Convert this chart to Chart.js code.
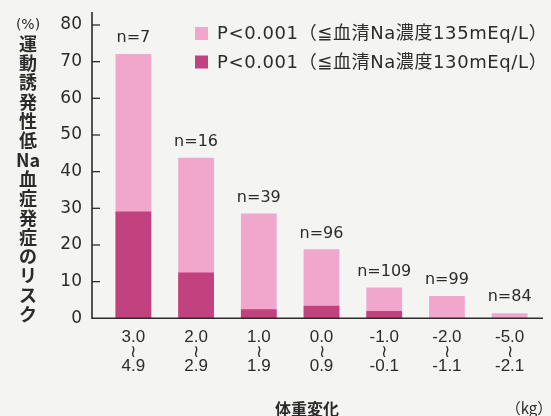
<!DOCTYPE html>
<html lang="ja">
<head>
<meta charset="UTF-8">
<title>体重変化と運動誘発性低Na血症発症のリスク</title>
<script src="https://cdn.jsdelivr.net/npm/chart.js"></script>
<style>
  html, body { margin: 0; padding: 0; background: #f4f4f3; }
  canvas { display: block; }
</style>
</head>
<body>
<canvas id="riskChart" width="551" height="416"></canvas>
<script>
// values
const weightFrom = ['3.0', '2.0', '1.0', '0.0', '-1.0', '-2.0', '-5.0'];
const weightTo = ['4.9', '2.9', '1.9', '0.9', '-0.1', '-1.1', '-2.1'];
const sampleSizes = [7, 16, 39, 96, 109, 99, 84];
const risk135 = [72.1, 43.8, 28.6, 18.8, 8.4, 6.1, 1.4];
const risk130 = [29.1, 12.5, 2.5, 3.4, 2.0, 0, 0];
const yTicks = [0, 10, 20, 30, 40, 50, 60, 70, 80];

const legend135 = 'P<0.001（≦血清Na濃度135mEq/L）';
const legend130 = 'P<0.001（≦血清Na濃度130mEq/L）';
const yTitle = ['運', '動', '誘', '発', '性', '低', 'Na', '血', '症', '発', '症', 'の', 'リ', 'ス', 'ク'];

const lightPink = '#f0a7cb';
const darkPink = '#c1427e';
const ink = '#2b2b2b';
const sans = "'DejaVu Sans', 'Noto Sans CJK JP', sans-serif";
const jp = "'Noto Sans CJK JP', sans-serif";

const labels = weightFrom.map((v, i) => [v, '≀', weightTo[i]]);

// axes, legend, titles and n= labels
const decor = {
    id: 'decor',
    beforeDraw(chart) {
        const c = chart.ctx;
        c.save();
        c.fillStyle = '#f4f4f3';
        c.fillRect(0, 0, chart.width, chart.height);
        c.restore();
    },
    afterDatasetsDraw(chart) {
        const c = chart.ctx;
        const y = chart.scales.y;
        const area = chart.chartArea;
        const axisX = area.left - 10;
        c.save();
        c.strokeStyle = ink;
        c.lineWidth = 1.6;
        c.beginPath();
        c.moveTo(axisX, 12);
        c.lineTo(axisX, area.bottom);
        c.lineTo(area.right + 2, area.bottom);
        c.stroke();
        c.lineWidth = 1.3;
        yTicks.forEach(t => {
            if (t === 0) return;
            const py = y.getPixelForValue(t);
            c.beginPath();
            c.moveTo(axisX, py);
            c.lineTo(axisX + 8, py);
            c.stroke();
        });

        // n= labels over the taller bar
        const meta = chart.getDatasetMeta(0);
        c.fillStyle = ink;
        c.font = '16px ' + sans;
        c.textAlign = 'center';
        c.textBaseline = 'middle';
        meta.data.forEach((bar, i) => {
            c.fillText('n=' + sampleSizes[i], bar.x, bar.y - 16);
        });

        // legend
        const items = [
            { text: legend135, color: lightPink, y: 33.5 },
            { text: legend130, color: darkPink, y: 62 }
        ];
        c.textAlign = 'left';
        c.font = '18px ' + sans;
        c.letterSpacing = '0.6px';
        items.forEach(it => {
            c.fillStyle = it.color;
            c.fillRect(195, it.y - 6.5, 13, 13);
            c.fillStyle = ink;
            c.fillText(it.text, 217, it.y + 1);
        });
        c.letterSpacing = '0px';

        // y title, stacked vertically
        c.textAlign = 'center';
        c.font = '14px ' + sans;
        c.fillText('(%)', 28, 25);
        c.font = 'bold 18px ' + jp;
        yTitle.forEach((ch, i) => {
            c.fillText(ch, 28, 44 + i * 19.3);
        });

        // x title
        c.font = 'bold 16px ' + jp;
        c.fillText('体重変化', 307, 409);
        c.font = '15px ' + jp;
        c.fillText('（kg）', 529, 408);
        c.restore();
    }
};

new Chart(document.getElementById('riskChart'), {
    type: 'bar',
    data: {
        labels: labels,
        datasets: [
            {
                label: legend135,
                data: risk135,
                backgroundColor: lightPink,
                order: 1
            },
            {
                label: legend130,
                data: risk130,
                backgroundColor: darkPink,
                order: 0
            }
        ]
    },
    options: {
        responsive: false,
        animation: false,
        events: [],
        layout: { padding: { top: 25, right: 10, bottom: 0, left: 0 } },
        datasets: { bar: { barPercentage: 0.57, categoryPercentage: 1 } },
        plugins: {
            legend: { display: false },
            tooltip: { enabled: false }
        },
        scales: {
            x: {
                stacked: true,
                grid: { display: false },
                border: { display: false },
                ticks: {
                    color: ink,
                    font: { family: "'Liberation Sans', 'Noto Sans CJK JP', sans-serif", size: 17, lineHeight: 0.85 },
                    padding: 4,
                    maxRotation: 0,
                    autoSkip: false
                },
                afterFit(scale) { scale.height = 97.7; }
            },
            y: {
                stacked: false,
                min: 0,
                max: 80,
                grid: { display: false },
                border: { display: false },
                ticks: {
                    stepSize: 10,
                    color: ink,
                    font: { family: sans, size: 17 },
                    padding: 12
                },
                afterFit(scale) { scale.width = 102; }
            }
        }
    },
    plugins: [decor]
});
</script>
</body>
</html>
